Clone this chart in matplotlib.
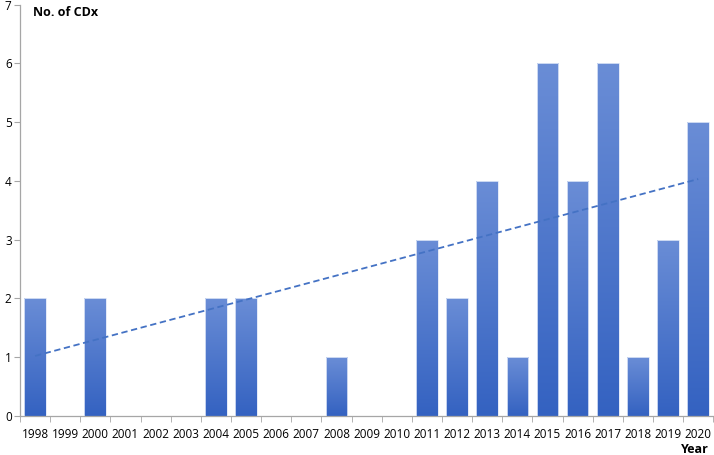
import numpy as np
import matplotlib.pyplot as plt
from matplotlib.colors import LinearSegmentedColormap

# data
years = [str(y) for y in range(1998, 2021)]
counts = [2, 0, 2, 0, 0, 0, 2, 2, 0, 0, 1, 0, 0, 3, 2, 4, 1, 6, 4, 6, 1, 3, 5]
trend_years = ['1998', '2020']
trend_vals = [1.02, 4.03]

plt.rcParams['font.family'] = ['Open Sans', 'DejaVu Sans']

fig = plt.figure(figsize=(7.14, 4.55), dpi=100)
ax = fig.add_axes([0.028, 0.086, 0.971, 0.904])

x = np.arange(len(years))
bw = 0.72
bars = ax.bar(x, counts, width=bw, color='none', edgecolor='#dfe7f7', linewidth=0.6, zorder=3)

# vertical gradient inside each bar
cmap = LinearSegmentedColormap.from_list('grad', ['#3462c1', '#6a8dd6'])
grad = np.linspace(0, 1, 256).reshape(-1, 1)
for b in bars:
    h = b.get_height()
    if h <= 0:
        continue
    x0 = b.get_x()
    im = ax.imshow(grad, cmap=cmap, aspect='auto', origin='lower',
                   extent=[x0, x0 + bw, 0, h], zorder=2)
    im.set_clip_path(b)

# linear trend line
tx = [years.index(t) for t in trend_years]
ax.plot(tx, trend_vals, ls=(0, (3.5, 2)), color='#4472c4', lw=1.3, zorder=4)

ax.set_xlim(-0.5, len(years) - 0.5)
ax.set_ylim(0, 7)
ax.set_xticks(x)
ax.set_xticklabels(years, fontsize=8.5)
ax.set_xticks(np.arange(-0.5, len(years), 1), minor=True)
ax.tick_params(axis='x', which='major', length=0, pad=9)
ax.tick_params(axis='x', which='minor', length=4, color='#a6a6a6')
ax.set_yticks(range(0, 8))
ax.tick_params(axis='y', labelsize=8.5, length=4, color='#a6a6a6', pad=2)

for s in ['top', 'right']:
    ax.spines[s].set_visible(False)
for s in ['left', 'bottom']:
    ax.spines[s].set_color('#a6a6a6')
    ax.spines[s].set_linewidth(0.9)

fig.text(0.046, 0.972, 'No. of CDx', fontsize=9, fontweight='bold', va='center', ha='left')
fig.text(0.993, 0.011, 'Year', fontsize=9, fontweight='bold', va='center', ha='right')

fig.savefig('out.png', dpi=100)
